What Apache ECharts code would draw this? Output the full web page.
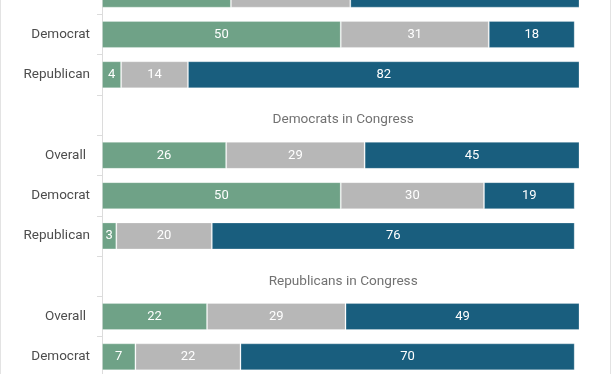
<!DOCTYPE html>
<html>
<head>
<meta charset="utf-8">
<script src="https://cdn.jsdelivr.net/npm/echarts@6/dist/echarts.min.js"></script>
<style>
html,body{margin:0;padding:0;background:#fff;overflow:hidden;}
#wrap{position:relative;width:612px;height:374px;overflow:hidden;border:0;}
#c{position:absolute;left:0;top:-26px;width:612px;height:403px;}
#fl{position:absolute;left:0;top:0;width:1px;height:374px;background:#e3e3e3;}
#fr{position:absolute;left:610px;top:0;width:1px;height:374px;background:#e3e3e3;}
</style>
</head>
<body>
<div id="wrap"><div id="c"></div><div id="fl"></div><div id="fr"></div></div>
<script>
// Row labels (top to bottom); empty rows carry the group titles
const categories = ['Overall', 'Democrat', 'Republican', '', 'Overall', 'Democrat', 'Republican', '', 'Overall', 'Democrat'];
const groupTitles = [null, null, null, 'Democrats in Congress', null, null, null, 'Republicans in Congress', null, null];
const greenVals = [27, 50, 4, null, 26, 50, 3, null, 22, 7];
const grayVals  = [25, 31, 14, null, 29, 30, 20, null, 29, 22];
const blueVals  = [48, 18, 82, null, 45, 19, 76, null, 49, 70];

const FONT = 'Roboto';
const chart = echarts.init(document.getElementById('c'), null, {renderer: 'canvas'});

function barSeries(name, data, color) {
  return {
    name: name,
    type: 'bar',
    stack: 'total',
    data: data,
    barWidth: 27,
    itemStyle: {color: color, borderColor: 'rgba(255,255,255,0.25)', borderWidth: 1},
    label: {
      show: true,
      position: 'inside',
      color: '#fff',
      fontFamily: FONT,
      fontSize: 13,
      formatter: p => (p.value == null ? '' : String(p.value))
    },
    emphasis: {disabled: true},
    animation: false
  };
}

const titleData = groupTitles.map((t, i) => t ? {value: [50.5, i], title: t} : null).filter(d => d);

chart.setOption({
  animation: false,
  grid: {left: 102, right: 32.5, top: 0, bottom: 0, containLabel: false},
  xAxis: {type: 'value', min: 0, max: 100, show: false},
  yAxis: {
    type: 'category',
    inverse: true,
    data: categories,
    axisLine: {show: true, lineStyle: {color: '#dcdcdc', width: 1}},
    axisTick: {show: true, length: 5, lineStyle: {color: '#dcdcdc'}},
    axisLabel: {
      color: '#4d4d4d', fontFamily: FONT, fontSize: 13.5, margin: 12,
      formatter: v => (v === 'Overall' ? '{o|' + v + '}' : v),
      rich: {o: {color: '#4d4d4d', fontFamily: FONT, fontSize: 13.5, padding: [0, 4, 0, 0]}}
    }
  },
  series: [
    barSeries('green', greenVals, '#6fa287'),
    barSeries('gray', grayVals, '#b7b7b7'),
    barSeries('blue', blueVals, '#195e7e'),
    {
      type: 'scatter',
      symbolSize: 0,
      data: titleData,
      label: {
        show: true,
        position: 'inside',
        offset: [0, 5],
        formatter: p => p.data.title,
        color: '#4d4d4d',
        fontFamily: FONT,
        fontSize: 13.6
      },
      emphasis: {disabled: true},
      silent: true
    }
  ]
});
</script>
</body>
</html>
